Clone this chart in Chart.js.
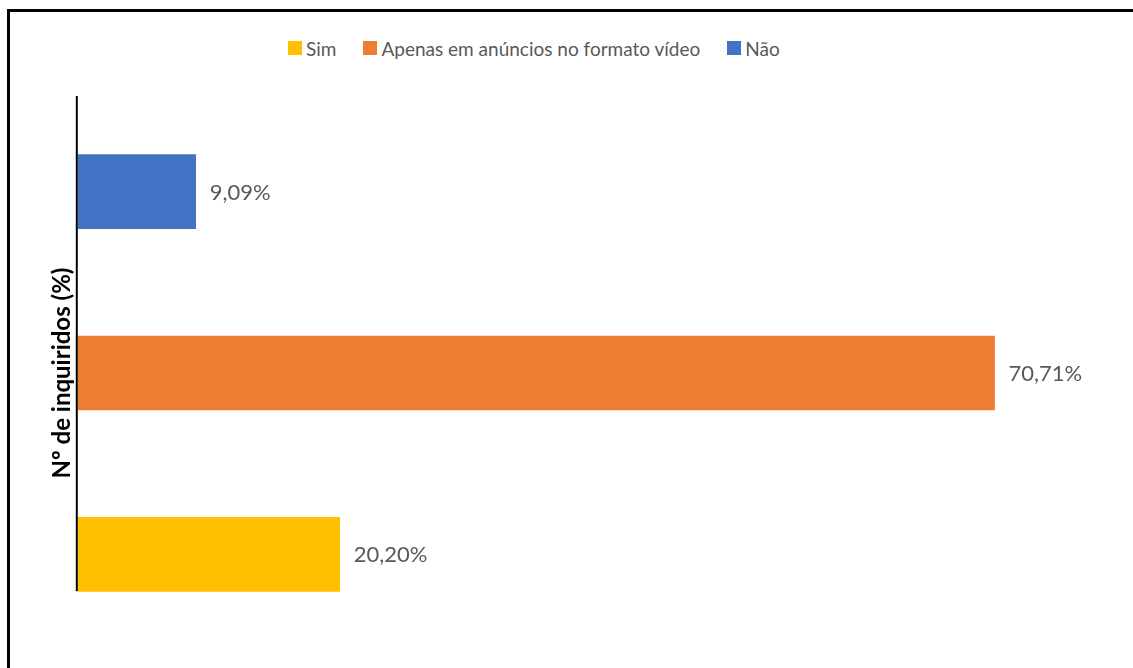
<!DOCTYPE html>
<html lang="pt">
<head>
<meta charset="utf-8">
<title>Nº de inquiridos (%)</title>
<script src="https://cdn.jsdelivr.net/npm/chart.js@4/dist/chart.umd.min.js"></script>
<style>
  html, body { margin: 0; padding: 0; background: #fff; overflow: hidden; }
  #wrap { position: relative; width: 1133px; height: 668px; overflow: hidden; }
  #frame {
    position: absolute; left: 7px; top: 9px; width: 1300px; height: 800px;
    border-top: 3px solid #000; border-left: 3px solid #000;
  }
  #legend {
    position: absolute; left: 288px; top: 37px; height: 22px;
    display: flex; align-items: center; gap: 27px;
    font-family: Lato, "Open Sans", sans-serif; font-size: 19px; color: #595959;
  }
  #legend .item { display: flex; align-items: center; }
  #legend .box { width: 14px; height: 14px; margin-right: 4px; }
  #chart { position: absolute; left: 0; top: 0; }
</style>
</head>
<body>
<div id="wrap">
  <div id="frame"></div>
  <div id="legend"></div>
  <canvas id="chart" width="1133" height="668"></canvas>
</div>
<script>
document.addEventListener("DOMContentLoaded", function () {
    const seriesNames = ['Sim', 'Apenas em anúncios no formato vídeo', 'Não'];
    const seriesValues = [20.20, 70.71, 9.09];
    const seriesColors = ['#FFC000', '#ED7D31', '#4472C4'];
    const axisTitle = 'Nº de inquiridos (%)';

    // legend above the plot, same order as the series
    const legendEl = document.getElementById('legend');
    seriesNames.forEach((name, i) => {
        const item = document.createElement('span');
        item.className = 'item';
        const box = document.createElement('span');
        box.className = 'box';
        box.style.background = seriesColors[i];
        item.appendChild(box);
        item.appendChild(document.createTextNode(name));
        legendEl.appendChild(item);
    });

    const fmt = v => v.toFixed(2).replace('.', ',') + '%';

    // value written to the right of each bar
    const barLabels = {
        id: 'barLabels',
        afterDatasetsDraw(chart) {
            const ctx = chart.ctx;
            ctx.save();
            ctx.font = '22px Lato';
            ctx.fillStyle = '#595959';
            ctx.textBaseline = 'middle';
            chart.data.datasets.forEach((ds, i) => {
                chart.getDatasetMeta(i).data.forEach((bar, j) => {
                    ctx.fillText(fmt(ds.data[j].x), bar.x + 14, bar.y + 1);
                });
            });
            ctx.restore();
        }
    };

    // vertical axis line, stopping at the bottom of the lowest bar
    const axisLine = {
        id: 'axisLine',
        afterDatasetsDraw(chart) {
            const ctx = chart.ctx;
            const area = chart.chartArea;
            const low = chart.getDatasetMeta(0).data[0];
            ctx.save();
            ctx.strokeStyle = '#000';
            ctx.lineWidth = 2;
            ctx.beginPath();
            ctx.moveTo(area.left - 1, area.top - 5);
            ctx.lineTo(area.left - 1, low.y + low.height / 2);
            ctx.stroke();
            ctx.restore();
        }
    };

    const ctx = document.getElementById('chart').getContext('2d');

    new Chart(ctx, {
        type: 'bar',
        data: {
            labels: seriesNames,
            datasets: seriesNames.map((name, i) => ({
                label: name,
                data: [{ x: seriesValues[i], y: name }],
                backgroundColor: seriesColors[i],
                borderWidth: 0,
                barThickness: 74
            }))
        },
        plugins: [barLabels, axisLine],
        options: {
            indexAxis: 'y',
            responsive: false,
            animation: false,
            layout: {
                padding: { left: 48, right: 18, top: 101, bottom: 23 }
            },
            scales: {
                x: {
                    display: false,
                    stacked: true,
                    min: 0,
                    max: 80
                },
                y: {
                    stacked: true,
                    reverse: true,
                    grid: { display: false, drawTicks: false },
                    border: { display: false },
                    ticks: { display: false },
                    title: {
                        display: true,
                        text: axisTitle,
                        color: '#000',
                        font: { family: 'Lato', size: 24, weight: 'bold' },
                        padding: { top: 0, bottom: 1 }
                    }
                }
            },
            plugins: {
                legend: { display: false },
                tooltip: { enabled: false }
            }
        }
    });
});
</script>
</body>
</html>
